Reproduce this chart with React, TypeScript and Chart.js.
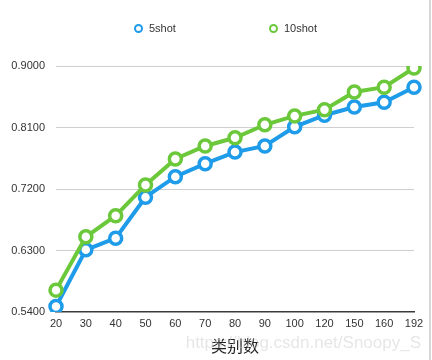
import React, { useEffect, useRef } from "react";
import { Chart, registerables } from "chart.js";

Chart.register(...registerables);

const categories = ["20", "30", "40", "50", "60", "70", "80", "90", "100", "120", "150", "160", "192"];
const shot5 = [0.548, 0.631, 0.648, 0.708, 0.738, 0.757, 0.774, 0.783, 0.811, 0.828, 0.840, 0.847, 0.869];
const shot10 = [0.572, 0.650, 0.681, 0.726, 0.764, 0.783, 0.795, 0.814, 0.827, 0.836, 0.862, 0.869, 0.897];
const seriesNames = ["5shot", "10shot"];
const seriesColors = ["#1E9BE9", "#6BC83A"];
const xTitle = "类别数";
const watermark = "https://blog.csdn.net/Snoopy_S";

const FONT = "Helvetica, Arial, 'Liberation Sans', sans-serif";

export default function App() {
  const ref = useRef<HTMLCanvasElement>(null);

  useEffect(() => {
    document.body.style.margin = "0";
    const ctx = ref.current!;
    const mk = (label: string, data: number[], color: string) => ({
      label,
      data,
      borderColor: color,
      backgroundColor: "#ffffff",
      borderWidth: 4,
      pointRadius: 6,
      pointBorderWidth: 3.5,
      pointBackgroundColor: "#ffffff",
      pointBorderColor: color,
      tension: 0,
    });
    const chart = new Chart(ctx, {
      type: "line",
      data: {
        labels: categories,
        datasets: [mk(seriesNames[1], shot10, seriesColors[1]), mk(seriesNames[0], shot5, seriesColors[0])],
      },
      options: {
        animation: false,
        responsive: false,
        layout: { padding: { top: 66, right: 18, left: 0, bottom: 4 } },
        plugins: { legend: { display: false }, tooltip: { enabled: false } },
        scales: {
          x: {
            offset: false,
            afterFit: (s: any) => { s.height = 44; },
            grid: { display: false, drawTicks: false },
            border: { display: true, color: "#3a3a3a", width: 1.5 },
            ticks: { color: "#333", font: { family: FONT, size: 11 }, padding: 5, maxRotation: 0, autoSkip: false },
            title: { display: true, text: xTitle, color: "#222", font: { family: "'Noto Sans CJK SC', sans-serif", size: 16 }, padding: { top: 2, bottom: 0 } },
          },
          y: {
            min: 0.54,
            max: 0.9,
            afterFit: (s: any) => { s.width = 56; },
            ticks: {
              stepSize: 0.09,
              color: "#333",
              padding: 11,
              font: { family: FONT, size: 11 },
              callback: (v: any) => Number(v).toFixed(4),
            },
            grid: {
              drawTicks: false,
              color: (c: any) => (c.index === 0 ? "rgba(0,0,0,0)" : "#cfcfcf"),
              lineWidth: 1,
            },
            border: { display: false },
          },
        },
      },
    });
    return () => chart.destroy();
  }, []);

  const legendItem = (name: string, color: string, left: number) => (
    <div style={{ position: "absolute", left, top: 22, display: "flex", alignItems: "center", fontFamily: FONT, fontSize: 11, color: "#333" }}>
      <span style={{ display: "inline-block", width: 5, height: 5, borderRadius: "50%", border: `2px solid ${color}`, marginRight: 6 }} />
      <span>{name}</span>
    </div>
  );

  return (
    <div style={{ position: "fixed", left: 0, top: 0, width: 432, height: 360, background: "#fff", overflow: "hidden" }}>
      <canvas ref={ref} width={432} height={360} style={{ position: "absolute", left: 0, top: 0 }} />
      {legendItem(seriesNames[0], seriesColors[0], 134)}
      {legendItem(seriesNames[1], seriesColors[1], 269)}
      <div style={{ position: "absolute", right: 11, top: 333, fontFamily: FONT, fontSize: 17, color: "rgba(200,200,200,0.45)", pointerEvents: "none", whiteSpace: "nowrap" }}>{watermark}</div>
      <div style={{ position: "absolute", left: 429, top: 0, width: 2, height: 360, background: "#d8d8d8" }} />
    </div>
  );
}
